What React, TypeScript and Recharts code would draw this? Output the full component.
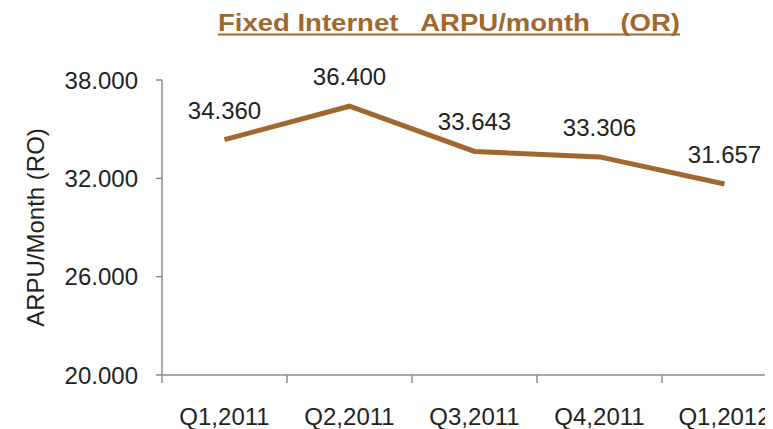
import { LineChart, Line, XAxis, YAxis, LabelList } from 'recharts'

const quarters = ['Q1,2011', 'Q2,2011', 'Q3,2011', 'Q4,2011', 'Q1,2012']
const arpu = [34.36, 36.4, 33.643, 33.306, 31.657]
const yTicks = [20, 26, 32, 38]

const BROWN = '#a0682f'
const AXIS = '#8c8c8c'
const TEXT = '#222'
const FONT = '"Liberation Sans", Arial, sans-serif'

const data = quarters.map((quarter, i) => ({ quarter, arpu: arpu[i] }))

// excel style: tick marks sit between the categories, labels in the middle
function QuarterTick(props: any) {
  const { x, y, payload } = props
  const half = payload?.offset ?? 0
  return (
    <g>
      <line x1={x - half} x2={x - half} y1={y} y2={y + 8} stroke={AXIS} strokeWidth={1.5} />
      <text x={x} y={y + 33} dy="0.71em" textAnchor="middle" fill={TEXT} fontSize={24} fontFamily={FONT}>
        {payload.value}
      </text>
    </g>
  )
}

export default function App() {
  return (
    <div style={{ position: 'relative', width: 765, height: 421, overflow: 'hidden', background: '#fff' }}>
      <div style={{ position: 'absolute', left: -8, top: -8 }}>
        <svg style={{ position: 'absolute', left: 0, top: 0, zIndex: 1 }} width={773} height={50}>
          <text
            x={449}
            y={31}
            textAnchor="middle"
            textLength={462}
            lengthAdjust="spacingAndGlyphs"
            fontFamily={FONT}
            fontWeight="bold"
            fontSize={24}
            fill={BROWN}
            xmlSpace="preserve"
            style={{ whiteSpace: 'pre' }}
          >
            Fixed Internet   ARPU/month    (OR)
          </text>
          <line x1={218} x2={680} y1={34.5} y2={34.5} stroke={BROWN} strokeWidth={2} />
        </svg>
        <LineChart width={800} height={429} data={data} margin={{ top: 80, right: 13, bottom: 0, left: 0 }}>
          <XAxis
            dataKey="quarter"
            type="category"
            scale="band"
            interval={0}
            tickLine={false}
            tickSize={0}
            tickMargin={0}
            height={54}
            stroke={AXIS}
            strokeWidth={1.5}
            tick={<QuarterTick />}
          />
          <YAxis
            domain={[20, 38]}
            ticks={yTicks}
            width={162}
            tickSize={6}
            tickMargin={18}
            stroke={AXIS}
            strokeWidth={1.5}
            tickFormatter={(v: number) => v.toFixed(3)}
            tick={{ fill: TEXT, fontSize: 24, fontFamily: FONT }}
            label={{
              value: 'ARPU/Month (RO)',
              angle: -90,
              position: 'insideLeft',
              offset: 35,
              style: { textAnchor: 'middle', fill: TEXT, fontSize: 24, fontFamily: FONT },
            }}
          />
          <Line
            dataKey="arpu"
            stroke={BROWN}
            strokeWidth={5}
            dot={false}
            activeDot={false}
            isAnimationActive={false}
          >
            <LabelList
              dataKey="arpu"
              position="top"
              offset={21}
              formatter={(v: number) => v.toFixed(3)}
              fill={TEXT}
              fontSize={24}
              fontFamily={FONT}
            />
          </Line>
        </LineChart>
      </div>
    </div>
  )
}
